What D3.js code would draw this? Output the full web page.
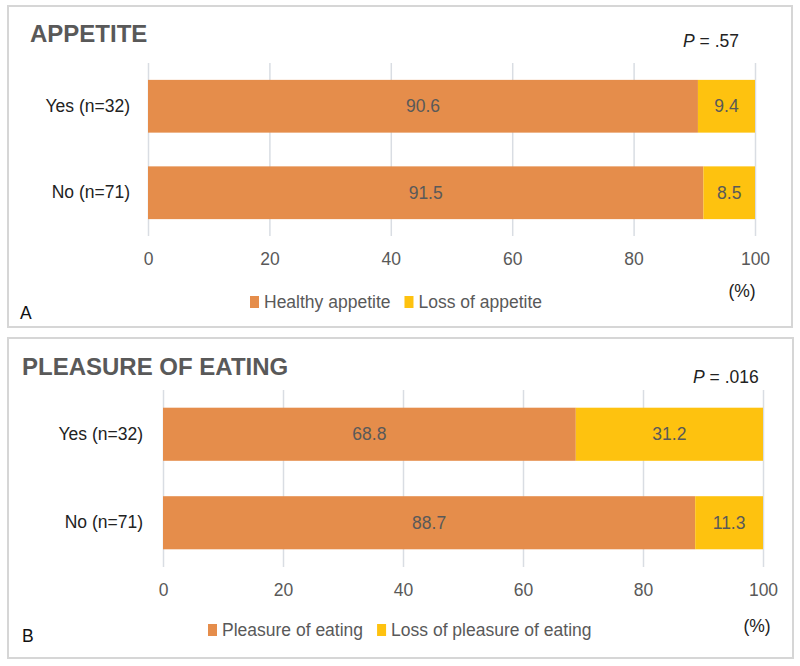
<!DOCTYPE html>
<html>
<head>
<meta charset="utf-8">
<script src="https://cdn.jsdelivr.net/npm/d3@7"></script>
<style>
  body { margin: 0; background: #fff; }
  svg { display: block; font-family: "Liberation Sans", Arial, sans-serif; }
</style>
</head>
<body>
<svg id="chart" width="800" height="666"></svg>
<script>
// data
const groups = ['Yes (n=32)', 'No (n=71)'];
const healthyAppetite = [90.6, 91.5];
const lossOfAppetite = [9.4, 8.5];
const pleasureOfEating = [68.8, 88.7];
const lossOfPleasure = [31.2, 11.3];
const xTicks = [0, 20, 40, 60, 80, 100];

const orange = '#e58d4b';
const yellow = '#fec20f';
const textGrey = '#595959';

// panel layout (positions only)
const panels = [
    {
        title: 'APPETITE', letter: 'A', pval: '.57',
        first: healthyAppetite, second: lossOfAppetite,
        names: ['Healthy appetite', 'Loss of appetite'],
        box: [8, 6, 784, 321], titleXY: [30, 42], pXY: [683, 47],
        x0: 148, x1: 755, top: 63, bottom: 236, pad: 0.39,
        legendX: 250, legendY: 302, pctXY: [742, 297], letterXY: [20, 319]
    },
    {
        title: 'PLEASURE OF EATING', letter: 'B', pval: '.016',
        first: pleasureOfEating, second: lossOfPleasure,
        names: ['Pleasure of eating', 'Loss of pleasure of eating'],
        box: [8, 338, 785, 320], titleXY: [22, 375], pXY: [693, 383],
        x0: 163, x1: 763, top: 390, bottom: 567, pad: 0.4,
        legendX: 208, legendY: 630, pctXY: [757, 632], letterXY: [22, 642]
    }
];

const svg = d3.select('#chart');

panels.forEach(p => {
    const g = svg.append('g');

    // border of the panel
    g.append('rect')
        .attr('x', p.box[0]).attr('y', p.box[1])
        .attr('width', p.box[2]).attr('height', p.box[3])
        .attr('fill', '#fff')
        .attr('stroke', '#d6d6d6')
        .attr('stroke-width', 2);

    g.append('text')
        .attr('x', p.titleXY[0]).attr('y', p.titleXY[1])
        .attr('font-size', 24).attr('font-weight', 'bold')
        .attr('fill', textGrey)
        .text(p.title);

    const pText = g.append('text')
        .attr('x', p.pXY[0]).attr('y', p.pXY[1])
        .attr('font-size', 17.5).attr('fill', '#222');
    pText.append('tspan').attr('font-style', 'italic').text('P');
    pText.append('tspan').text(' = ' + p.pval);

    const x = d3.scaleLinear().domain([0, 100]).range([p.x0, p.x1]);
    const y = d3.scaleBand()
        .domain(groups)
        .range([p.top, p.bottom])
        .paddingInner(p.pad)
        .paddingOuter(p.pad / 2);

    // gridlines + tick labels
    const xAxis = g.append('g')
        .attr('transform', `translate(0,${p.bottom})`)
        .call(d3.axisBottom(x).tickValues(xTicks)
            .tickSize(-(p.bottom - p.top)).tickPadding(17));
    xAxis.select('.domain').remove();
    xAxis.selectAll('line').attr('stroke', '#d9dde3').attr('stroke-width', 1.5);
    xAxis.selectAll('text')
        .attr('font-size', 17.5).attr('fill', textGrey)
        .style('font-family', '"Liberation Sans", Arial, sans-serif');

    const yAxis = g.append('g')
        .attr('transform', `translate(${p.x0},0)`)
        .call(d3.axisLeft(y).tickSize(0).tickPadding(p.x0 === 148 ? 18 : 20));
    yAxis.select('.domain').remove();
    yAxis.selectAll('text')
        .attr('font-size', 17.5).attr('fill', '#222')
        .style('font-family', '"Liberation Sans", Arial, sans-serif');

    // stacked segments
    const rows = groups.map((name, i) => ({ name, a: p.first[i], b: p.second[i] }));
    const bars = g.selectAll('.row').data(rows).join('g').attr('class', 'row');

    bars.append('rect')
        .attr('x', x(0))
        .attr('y', d => y(d.name))
        .attr('width', d => x(d.a) - x(0))
        .attr('height', y.bandwidth())
        .attr('fill', orange);
    bars.append('rect')
        .attr('x', d => x(d.a))
        .attr('y', d => y(d.name))
        .attr('width', d => x(d.a + d.b) - x(d.a))
        .attr('height', y.bandwidth())
        .attr('fill', yellow);

    bars.append('text')
        .attr('x', d => x(d.a / 2))
        .attr('y', d => y(d.name) + y.bandwidth() / 2)
        .attr('dy', '0.35em').attr('text-anchor', 'middle')
        .attr('font-size', 17.5).attr('fill', textGrey)
        .text(d => d.a.toFixed(1));
    bars.append('text')
        .attr('x', d => x(d.a + d.b / 2))
        .attr('y', d => y(d.name) + y.bandwidth() / 2)
        .attr('dy', '0.35em').attr('text-anchor', 'middle')
        .attr('font-size', 17.5).attr('fill', textGrey)
        .text(d => d.b.toFixed(1));

    // legend
    const leg = g.append('g').attr('transform', `translate(${p.legendX},${p.legendY})`);
    let offset = 0;
    [orange, yellow].forEach((c, i) => {
        leg.append('rect')
            .attr('x', offset).attr('y', -6)
            .attr('width', 9).attr('height', 12)
            .attr('fill', c);
        const t = leg.append('text')
            .attr('x', offset + 14).attr('dy', '0.35em')
            .attr('font-size', 17.5).attr('fill', textGrey)
            .text(p.names[i]);
        offset += 14 + t.node().getComputedTextLength() + 14;
    });

    g.append('text')
        .attr('x', p.pctXY[0]).attr('y', p.pctXY[1])
        .attr('text-anchor', 'middle')
        .attr('font-size', 17.5).attr('fill', '#222')
        .text('(%)');

    g.append('text')
        .attr('x', p.letterXY[0]).attr('y', p.letterXY[1])
        .attr('font-size', 17.5).attr('fill', '#111')
        .text(p.letter);
});
</script>
</body>
</html>
